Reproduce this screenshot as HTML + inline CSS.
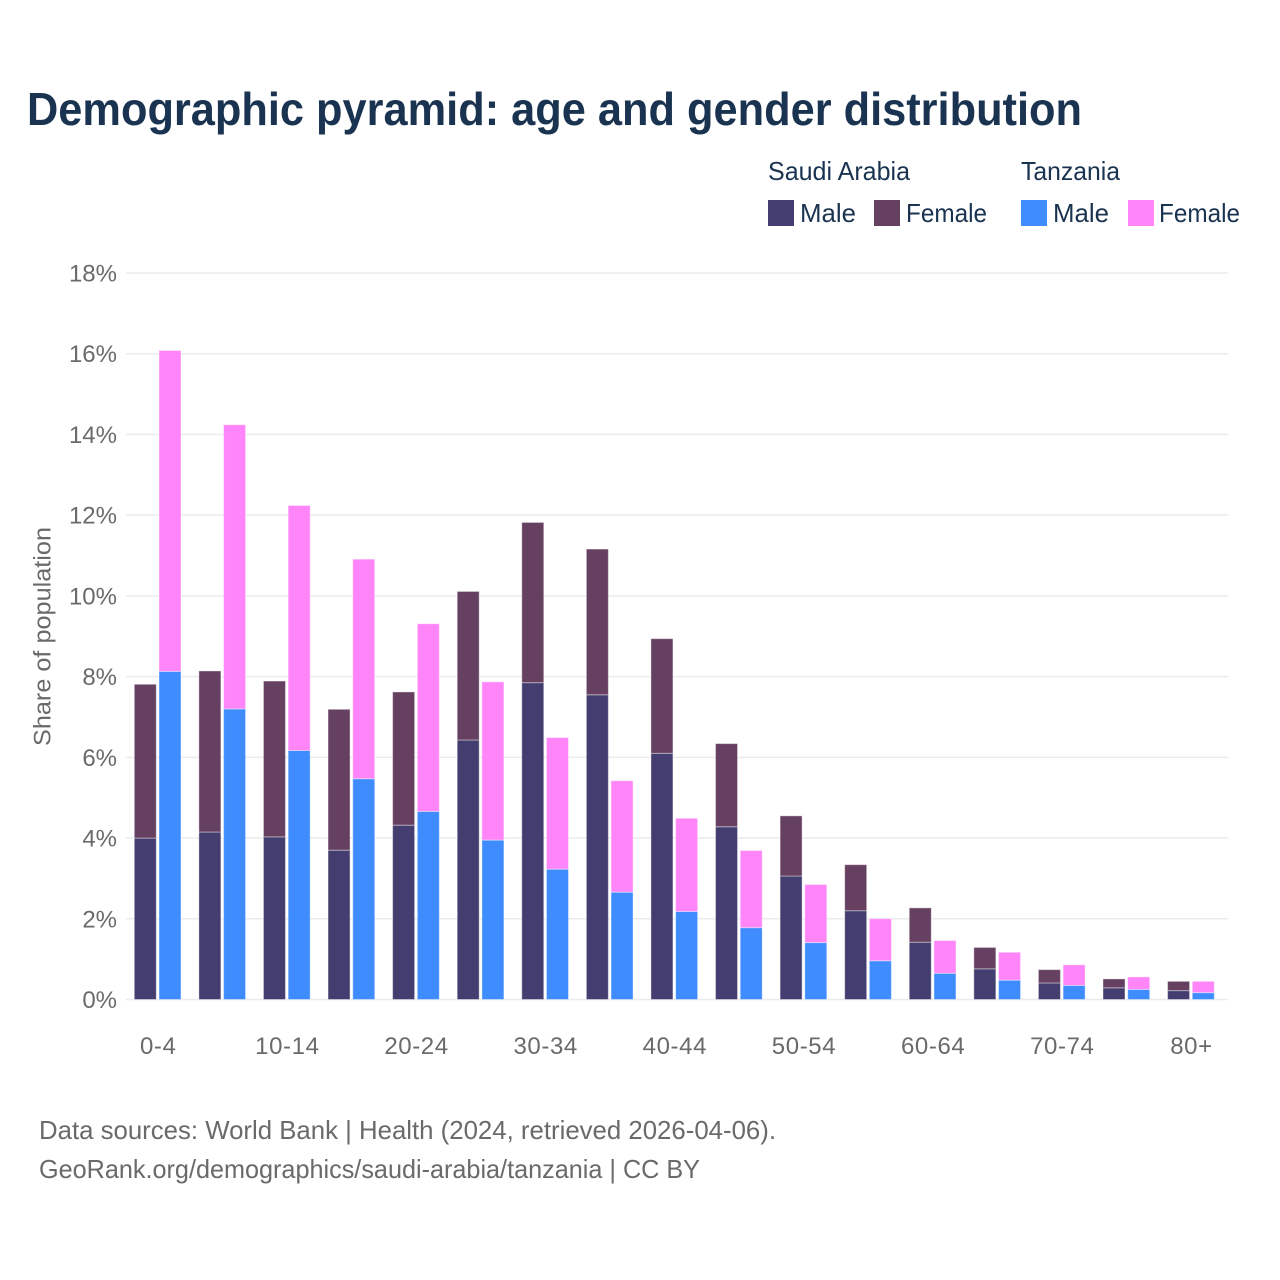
<!DOCTYPE html>
<html lang="en">
<head>
<meta charset="utf-8">
<title>Demographic pyramid: age and gender distribution</title>
<style>
html,body{margin:0;padding:0;background:#fff}
svg{display:block}
text{font-family:"Liberation Sans",sans-serif}
</style>
</head>
<body>
<svg id="chart" width="1280" height="1280" viewBox="0 0 1280 1280" xmlns="http://www.w3.org/2000/svg">
<rect width="1280" height="1280" fill="#fff"/>
<text x="27" y="125" font-size="46" font-weight="700" fill="#1a3350" textLength="1055" lengthAdjust="spacingAndGlyphs">Demographic pyramid: age and gender distribution</text>
<g font-size="26" fill="#1a3350">
<text x="768" y="180" textLength="142" lengthAdjust="spacingAndGlyphs">Saudi Arabia</text>
<text x="1021" y="180" textLength="99" lengthAdjust="spacingAndGlyphs">Tanzania</text>
<rect x="768" y="200" width="26" height="26" fill="#433e6f"/>
<text x="800" y="222" textLength="56" lengthAdjust="spacingAndGlyphs">Male</text>
<rect x="874" y="200" width="26" height="26" fill="#664061"/>
<text x="906" y="222" textLength="81" lengthAdjust="spacingAndGlyphs">Female</text>
<rect x="1021" y="200" width="26" height="26" fill="#3f8cff"/>
<text x="1053" y="222" textLength="56" lengthAdjust="spacingAndGlyphs">Male</text>
<rect x="1128" y="200" width="26" height="26" fill="#ff85f8"/>
<text x="1159" y="222" textLength="81" lengthAdjust="spacingAndGlyphs">Female</text>
</g>
<text transform="translate(50.5,636.5) rotate(-90)" text-anchor="middle" font-size="24" fill="#6a6a6a" textLength="219" lengthAdjust="spacingAndGlyphs">Share of population</text>
<g id="grid"></g>
<g id="bars"></g>
<g id="ylabels"></g>
<g id="xlabels"></g>
<text x="39" y="1139" font-size="26" fill="#6a6a6a" textLength="737" lengthAdjust="spacingAndGlyphs">Data sources: World Bank | Health (2024, retrieved 2026-04-06).</text>
<text x="39" y="1178" font-size="26" fill="#6a6a6a" textLength="661" lengthAdjust="spacingAndGlyphs">GeoRank.org/demographics/saudi-arabia/tanzania | CC BY</text>
</svg>
<script>
const categories = ["0-4","5-9","10-14","15-19","20-24","25-29","30-34","35-39","40-44","45-49","50-54","55-59","60-64","65-69","70-74","75-79","80+"];
const axisLabels = ["0-4","","10-14","","20-24","","30-34","","40-44","","50-54","","60-64","","70-74","","80+"];
const yTicks = [0,2,4,6,8,10,12,14,16,18];
const saudiMale = [4.0,4.15,4.03,3.7,4.32,6.43,7.85,7.55,6.1,4.28,3.06,2.2,1.42,0.76,0.41,0.29,0.22];
const saudiFemale = [3.81,3.99,3.86,3.49,3.3,3.68,3.97,3.61,2.84,2.06,1.49,1.14,0.85,0.53,0.33,0.22,0.23];
const tanzaniaMale = [8.13,7.2,6.17,5.47,4.66,3.95,3.23,2.66,2.18,1.78,1.41,0.96,0.65,0.48,0.35,0.25,0.17];
const tanzaniaFemale = [7.95,7.04,6.07,5.44,4.65,3.92,3.26,2.76,2.31,1.91,1.44,1.04,0.81,0.69,0.51,0.31,0.28];

const NS = "http://www.w3.org/2000/svg";
const yScale = v => 999.5 - v * (726.5 / 18);
const groupX = i => 134.3 + i * 64.58;
const barWidth = 22;
const secondOffset = 24.7;

function make(parent, tag, attrs, content) {
  const el = document.createElementNS(NS, tag);
  for (const k in attrs) el.setAttribute(k, attrs[k]);
  if (content !== undefined) el.textContent = content;
  parent.appendChild(el);
  return el;
}

const gridG = document.getElementById("grid");
const yG = document.getElementById("ylabels");
yTicks.forEach(t => {
  const line = make(gridG, "line", {x1:126, x2:1228, y1:yScale(t), y2:yScale(t), stroke:"#ebebeb", "stroke-width":1.5});
  
  
  const label = make(yG, "text", {x:117, y:yScale(t)+8.5, "text-anchor":"end", "font-size":24, fill:"#6a6a6a"}, t + "%");
  
  
});

const barsG = document.getElementById("bars");
function segment(x, base, value, color, name) {
  const rect = make(barsG, "rect", {x:x, y:yScale(base+value), width:barWidth, height:yScale(base)-yScale(base+value), fill:color, stroke:"#fff", "stroke-opacity":0.4, "stroke-width":1});
  
  
}
categories.forEach((c, i) => {
  const x0 = groupX(i);
  const x1 = x0 + secondOffset;
  segment(x0, 0, saudiMale[i], "#433e6f", "bar-saudi-male");
  segment(x0, saudiMale[i], saudiFemale[i], "#664061", "bar-saudi-female");
  segment(x1, 0, tanzaniaMale[i], "#3f8cff", "bar-tanzania-male");
  segment(x1, tanzaniaMale[i], tanzaniaFemale[i], "#ff85f8", "bar-tanzania-female");
});

const xG = document.getElementById("xlabels");
axisLabels.forEach((c, i) => {
  if (!c) return;
  const label = make(xG, "text", {x:groupX(i)+23.9, y:1054, "text-anchor":"middle", "font-size":24, "letter-spacing":0.6, fill:"#6a6a6a"}, c);
  
  
});
</script>
</body>
</html>
